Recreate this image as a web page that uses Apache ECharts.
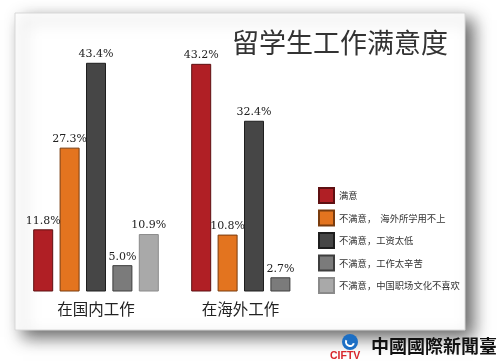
<!DOCTYPE html>
<html><head><meta charset="utf-8">
<script src="https://cdn.jsdelivr.net/npm/echarts@6/dist/echarts.min.js"></script>
<style>html,body{margin:0;padding:0;background:#fff}#c{width:500px;height:363px}</style>
</head><body><div id="c"></div>
<script>
const categories = ['在国内工作', '在海外工作'];
const seriesNames = ['满意', '不满意，  海外所学用不上', '不满意，工资太低', '不满意，工作太辛苦', '不满意，中国职场文化不喜欢'];
const satisfied = [11.8, 43.2];
const unusedSkills = [27.3, 10.8];
const lowPay = [43.4, 32.4];
const tooHard = [5.0, 2.7];
const workCulture = [10.9, null];
const titleText = '留学生工作满意度';

const colors = ['#b01f25', '#e3741f', '#464646', '#7b7b7b', '#a9a9a9'];
const borders = ['#5e1012', '#7a3c0e', '#1e1e1e', '#3e3e3e', '#8a8a8a'];
const values = [satisfied, unusedSkills, lowPay, tooHard, workCulture];

const chart = echarts.init(document.getElementById('c'), null, {renderer: 'canvas'});
const series = seriesNames.map((n, i) => ({
  name: n, type: 'bar', data: values[i], barWidth: 20, barGap: '32%', barCategoryGap: '21%',
  itemStyle: {color: colors[i], borderColor: borders[i], borderWidth: 1},
  label: {show: true, position: 'top', distance: 3, formatter: p => p.value.toFixed(1) + '%',
    fontFamily: 'DejaVu Serif', fontSize: 11, color: '#222'}
}));

chart.setOption({
  backgroundColor: '#ffffff',
  animation: false,
  graphic: [
    {type: 'rect', shape: {x: 15, y: 13, width: 450, height: 317}, z: -10,
      style: {fill: '#fff', stroke: '#d8d8d8', lineWidth: 1, shadowBlur: 16, shadowOffsetX: 8, shadowOffsetY: 7, shadowColor: 'rgba(0,0,0,0.6)'}},
    {type: 'circle', shape: {cx: 350, cy: 342, r: 8}, style: {fill: '#1d6fc4'}, z: 10},
    {type: 'arc', shape: {cx: 350, cy: 342, r: 4, startAngle: 0.3, endAngle: 3.6}, style: {stroke: '#fff', lineWidth: 2, fill: null}, z: 11},
    {type: 'text', x: 330, y: 351, style: {text: 'CIFTV', fill: '#d8262c', font: 'bold 10.5px "Liberation Sans"'}, z: 10},
    {type: 'text', x: 371, y: 337, style: {text: '中國國際新聞臺', fill: '#111', font: 'bold 18px "Noto Sans CJK TC"'}, z: 10}
  ],
  title: {text: titleText, left: 227, top: 24,
    textStyle: {fontFamily: 'Noto Sans CJK SC', fontSize: 27, fontWeight: 'normal', color: '#333'}},
  legend: {orient: 'vertical', left: 313, top: 182, itemWidth: 15, itemHeight: 15, itemGap: 5.5,
    icon: 'rect', data: seriesNames,
    textStyle: {fontFamily: 'Noto Sans CJK SC', fontSize: 9.3, color: '#333'}},
  grid: {left: 17, right: 167, top: 28, bottom: 71.5},
  xAxis: {type: 'category', data: categories,
    axisLine: {show: false}, axisTick: {show: false},
    axisLabel: {margin: 10, fontFamily: 'Noto Sans CJK SC', fontSize: 15.5, color: '#222',
      formatter: (v, i) => i === 1 ? '{s|' + v + '}' : '{n|' + v + '}',
      rich: {n: {fontFamily: 'Noto Sans CJK SC', fontSize: 15.5, color: '#222'},
             s: {fontFamily: 'Noto Sans CJK SC', fontSize: 15.5, color: '#222', padding: [0, 27, 0, 0]}}}},
  yAxis: {type: 'value', min: 0, max: 50, show: false, splitLine: {show: false}},
  series: series
});
</script></body></html>
